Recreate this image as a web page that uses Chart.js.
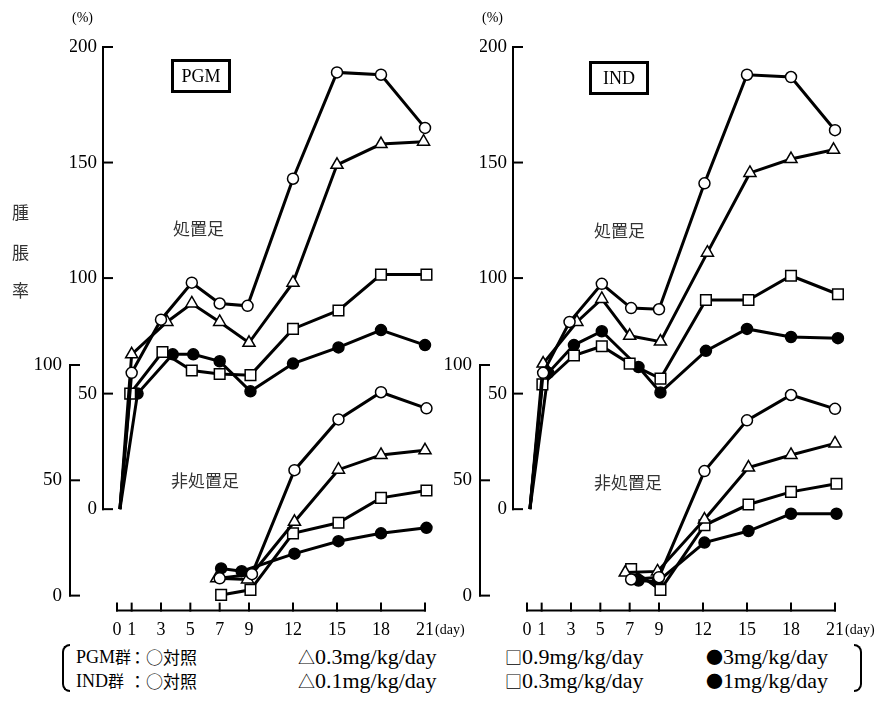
<!DOCTYPE html>
<html lang="ja">
<head>
  <meta charset="UTF-8">
  <title>腫脹率 PGM / IND</title>
  <script src="https://cdn.jsdelivr.net/npm/chart.js"></script>
  <style>
    body {
      margin: 0;
      background: #fff;
      width: 894px;
      height: 725px;
      position: relative;
      overflow: hidden;
      font-family: 'Liberation Serif', serif;
      color: #000;
    }
    canvas { position: absolute; top: 0; }
    #pgm { left: 0; }
    #ind { left: 410px; }
    .lbl { position: absolute; white-space: nowrap; line-height: 1; }
    .jp { font-family: 'Noto Sans CJK JP', sans-serif; font-size: 17px; color: #333; }
    .box {
      position: absolute;
      border: 3px solid #000;
      box-sizing: border-box;
      width: 60px;
      height: 34px;
      font-size: 18px;
      line-height: 28px;
      text-align: center;
    }
    .pct { font-size: 14px; }
    .legend { font-size: 22px; }
    .grp { font-size: 18px; }
    .grp .sym { font-size: 16px; }
    .sym { font-family: 'Noto Sans CJK JP', sans-serif; font-size: 17px; }
    .brk {
      position: absolute;
      top: 644px;
      height: 48px;
      width: 8px;
      box-sizing: border-box;
      border: 2px solid #000;
    }
  </style>
</head>
<body>
<canvas id="pgm" width="480" height="642"></canvas>
<canvas id="ind" width="480" height="642"></canvas>

<div class="lbl pct" style="left:72px;top:11px">(%)</div>
<div class="lbl pct" style="left:482px;top:11px">(%)</div>
<div class="lbl jp" style="left:12px;top:203px">腫</div>
<div class="lbl jp" style="left:12px;top:243px">脹</div>
<div class="lbl jp" style="left:12px;top:281px">率</div>
<div class="box" style="left:171px;top:59px">PGM</div>
<div class="box" style="left:589px;top:61px">IND</div>
<div class="lbl jp" style="left:173px;top:219px">処置足</div>
<div class="lbl jp" style="left:594px;top:221px">処置足</div>
<div class="lbl jp" style="left:171px;top:471px">非処置足</div>
<div class="lbl jp" style="left:594px;top:473px">非処置足</div>

<div class="brk" style="left:62px;border-right:none;border-radius:8px 0 0 8px"></div>
<div class="brk" style="left:854px;border-left:none;border-radius:0 8px 8px 0"></div>
<div class="lbl grp" style="left:76px;top:648px">PGM<span class="sym">群</span></div>
<div class="lbl grp" style="left:76px;top:672px">IND<span class="sym">群</span></div>
<div class="lbl sym" style="left:129px;top:648px">：○対照</div>
<div class="lbl sym" style="left:129px;top:672px">：○対照</div>
<div class="lbl legend" style="left:298px;top:646px"><span class="sym">△</span>0.3mg/kg/day</div>
<div class="lbl legend" style="left:298px;top:670px"><span class="sym">△</span>0.1mg/kg/day</div>
<div class="lbl legend" style="left:505px;top:646px"><span class="sym">□</span>0.9mg/kg/day</div>
<div class="lbl legend" style="left:505px;top:670px"><span class="sym">□</span>0.3mg/kg/day</div>
<div class="lbl legend" style="left:706px;top:646px"><span class="sym">●</span>3mg/kg/day</div>
<div class="lbl legend" style="left:706px;top:670px"><span class="sym">●</span>1mg/kg/day</div>

<script>
  // tick values
  const dayTicks = [0, 1, 3, 5, 7, 9, 12, 15, 18, 21];
  const treatedTicks = [0, 50, 100, 150, 200];
  const untreatedTicks = [0, 50, 100];

  // PGM, 処置足 (treated paw)
  const pgmTrCtrlDays = [0.2, 1, 3, 5.1, 7, 8.9, 12, 15, 18, 21];
  const pgmTrCtrl = [0, 59, 82, 98, 89, 88, 143, 189, 188, 165];
  const pgmTrLowDays = [0.2, 1, 3.4, 5.1, 7, 9, 12, 15, 18, 20.9];
  const pgmTrLow = [0, 67, 81, 89, 81, 72, 98, 149, 158, 159];
  const pgmTrMidDays = [0.2, 0.9, 3.1, 5.1, 7, 9.1, 12, 15.1, 18, 21.1];
  const pgmTrMid = [0, 50, 68, 60, 58.5, 58, 78, 86, 101.5, 101.5];
  const pgmTrHighDays = [0.2, 1.4, 3.8, 5.2, 7, 9.1, 12, 15.1, 18, 21];
  const pgmTrHigh = [0, 50, 67, 67, 64, 51, 63, 70, 77.5, 71];

  // PGM, 非処置足 (untreated paw)
  const pgmUnCtrlDays = [7, 9.2, 12.1, 15.1, 18, 21.1];
  const pgmUnCtrl = [7.5, 9.3, 54.4, 76.4, 88.2, 81.2];
  const pgmUnLowDays = [6.8, 8.9, 12.1, 15.1, 18, 21];
  const pgmUnLow = [7.5, 7, 32, 54.6, 61, 63];
  const pgmUnMidDays = [7.1, 9.1, 12, 15.1, 18, 21.1];
  const pgmUnMid = [0.3, 2.5, 27, 31.6, 42.4, 45.6];
  const pgmUnHighDays = [7.1, 8.5, 12.1, 15.1, 18, 21.1];
  const pgmUnHigh = [11.8, 10.6, 18.2, 23.6, 27, 29.4];

  // IND, 処置足
  const indTrCtrlDays = [0.2, 1.1, 2.9, 5.1, 7.1, 9, 12.1, 15, 18, 21];
  const indTrCtrl = [0, 59, 81, 97.5, 87, 86.5, 141, 188, 187, 164];
  const indTrLowDays = [0.2, 1.1, 3.4, 5.1, 7, 9.1, 12.3, 15.2, 18, 20.9];
  const indTrLow = [0, 63, 81, 91, 75, 72.5, 111, 145.5, 151.5, 155.5];
  const indTrMidDays = [0.2, 1.05, 3.2, 5.1, 7, 9.1, 12.2, 15.1, 18, 21.2];
  const indTrMid = [0, 54, 66.5, 70.5, 63, 56.5, 90.5, 90.5, 101, 93];
  const indTrHighDays = [0.2, 1.45, 3.2, 5.1, 7.6, 9.1, 12.2, 15, 18, 21.2];
  const indTrHigh = [0, 59, 71, 77, 61.5, 50.5, 68.5, 78, 74.5, 74];

  // IND, 非処置足
  const indUnCtrlDays = [7.1, 9, 12.1, 15, 18, 21];
  const indUnCtrl = [7, 8, 54, 76, 87, 81];
  const indUnLowDays = [6.7, 8.9, 12.1, 15.1, 18, 21];
  const indUnLow = [10, 10.5, 33, 55.5, 61, 66];
  const indUnMidDays = [7.1, 9.1, 12.1, 15.1, 18, 21.1];
  const indUnMid = [11.5, 2.5, 30.5, 39.5, 45, 48.5];
  const indUnHighDays = [7.6, 8.9, 12.1, 15.1, 18, 21.1];
  const indUnHigh = [6.5, 6, 23, 28, 35.5, 35.5];

  // marker look per group
  const markers = {
    ctrl: { pointStyle: 'circle', radius: 5.5, fill: '#fff' },
    low: { pointStyle: 'triangle', radius: 7, fill: '#fff' },
    mid: { pointStyle: 'rect', radius: 7.5, fill: '#fff' },
    high: { pointStyle: 'circle', radius: 5.5, fill: '#000' }
  };

  function series(days, vals, kind, axis) {
    const m = markers[kind];
    return {
      data: days.map((d, i) => ({ x: d, y: vals[i] })),
      yAxisID: axis,
      borderColor: '#000',
      borderWidth: 3,
      pointStyle: m.pointStyle,
      // the start point at day 0 has no marker
      pointRadius: ctx => (axis === 'y' && ctx.dataIndex === 0) ? 0 : m.radius,
      pointBackgroundColor: m.fill,
      pointBorderColor: '#000',
      pointBorderWidth: 1.5,
      tension: 0,
      clip: false
    };
  }

  function line(ctx, x1, y1, x2, y2) {
    ctx.beginPath();
    ctx.moveTo(x1, y1);
    ctx.lineTo(x2, y2);
    ctx.stroke();
  }

  // axis lines with inward ticks, drawn from the chart scales
  const axisLines = {
    id: 'axisLines',
    afterDraw(chart) {
      const ctx = chart.ctx;
      const area = chart.chartArea;
      const x = chart.scales.x, y = chart.scales.y, y2 = chart.scales.y2;
      ctx.save();
      ctx.strokeStyle = '#000000';
      ctx.lineWidth = 2;
      ctx.lineCap = 'square';

      const a1 = area.left - 14;
      line(ctx, a1, y.getPixelForValue(0), a1, y.getPixelForValue(200));
      treatedTicks.forEach(v => {
        const p = y.getPixelForValue(v);
        line(ctx, a1, p, a1 + 9, p);
      });

      const a2 = y2.right;
      line(ctx, a2, y2.getPixelForValue(0), a2, y2.getPixelForValue(100));
      untreatedTicks.forEach(v => {
        const p = y2.getPixelForValue(v);
        line(ctx, a2, p, a2 + 9, p);
      });

      const base = area.bottom;
      line(ctx, x.getPixelForValue(0), base, x.getPixelForValue(21), base);
      dayTicks.forEach(d => {
        const p = x.getPixelForValue(d);
        line(ctx, p, base, p, base - 7);
      });

      ctx.font = '14px "Liberation Serif"';
      ctx.fillStyle = '#000';
      ctx.fillText('(day)', x.getPixelForValue(21) + 10, base + 23);
      ctx.restore();
    }
  };

  function fixed(list) {
    return scale => { scale.ticks = list.map(v => ({ value: v })); };
  }

  function makeChart(id, sets) {
    new Chart(document.getElementById(id), {
      type: 'line',
      data: { datasets: sets },
      options: {
        responsive: false,
        animation: false,
        devicePixelRatio: 1,
        layout: { padding: { left: 10, top: 47, right: 55, bottom: 0 } },
        plugins: { legend: { display: false }, tooltip: { enabled: false } },
        scales: {
          x: {
            type: 'linear',
            min: 0,
            max: 21,
            afterBuildTicks: fixed(dayTicks),
            afterFit: s => { s.height = 28; },
            grid: { display: false, drawTicks: false },
            border: { display: false },
            ticks: { padding: 9, color: '#000', font: { family: 'Liberation Serif', size: 18 } }
          },
          y: {
            position: 'left',
            weight: 0,
            min: -43.9,
            max: 200,
            afterBuildTicks: fixed(treatedTicks),
            afterFit: s => { s.width = 47; },
            grid: { display: false, drawTicks: false },
            border: { display: false },
            ticks: { padding: 20, color: '#000', font: { family: 'Liberation Serif', size: 19 } }
          },
          y2: {
            position: 'left',
            weight: 1,
            min: -6.5,
            max: 237.9,
            afterBuildTicks: fixed(untreatedTicks),
            afterFit: s => { s.width = 60; },
            grid: { display: false, drawTicks: false },
            border: { display: false },
            ticks: { padding: 8, color: '#000', font: { family: 'Liberation Serif', size: 19 } }
          }
        }
      },
      plugins: [axisLines]
    });
  }

  makeChart('pgm', [
    series(pgmTrCtrlDays, pgmTrCtrl, 'ctrl', 'y'),
    series(pgmTrLowDays, pgmTrLow, 'low', 'y'),
    series(pgmTrMidDays, pgmTrMid, 'mid', 'y'),
    series(pgmTrHighDays, pgmTrHigh, 'high', 'y'),
    series(pgmUnCtrlDays, pgmUnCtrl, 'ctrl', 'y2'),
    series(pgmUnLowDays, pgmUnLow, 'low', 'y2'),
    series(pgmUnMidDays, pgmUnMid, 'mid', 'y2'),
    series(pgmUnHighDays, pgmUnHigh, 'high', 'y2')
  ]);

  makeChart('ind', [
    series(indTrCtrlDays, indTrCtrl, 'ctrl', 'y'),
    series(indTrLowDays, indTrLow, 'low', 'y'),
    series(indTrMidDays, indTrMid, 'mid', 'y'),
    series(indTrHighDays, indTrHigh, 'high', 'y'),
    series(indUnCtrlDays, indUnCtrl, 'ctrl', 'y2'),
    series(indUnLowDays, indUnLow, 'low', 'y2'),
    series(indUnMidDays, indUnMid, 'mid', 'y2'),
    series(indUnHighDays, indUnHigh, 'high', 'y2')
  ]);
</script>
</body>
</html>
